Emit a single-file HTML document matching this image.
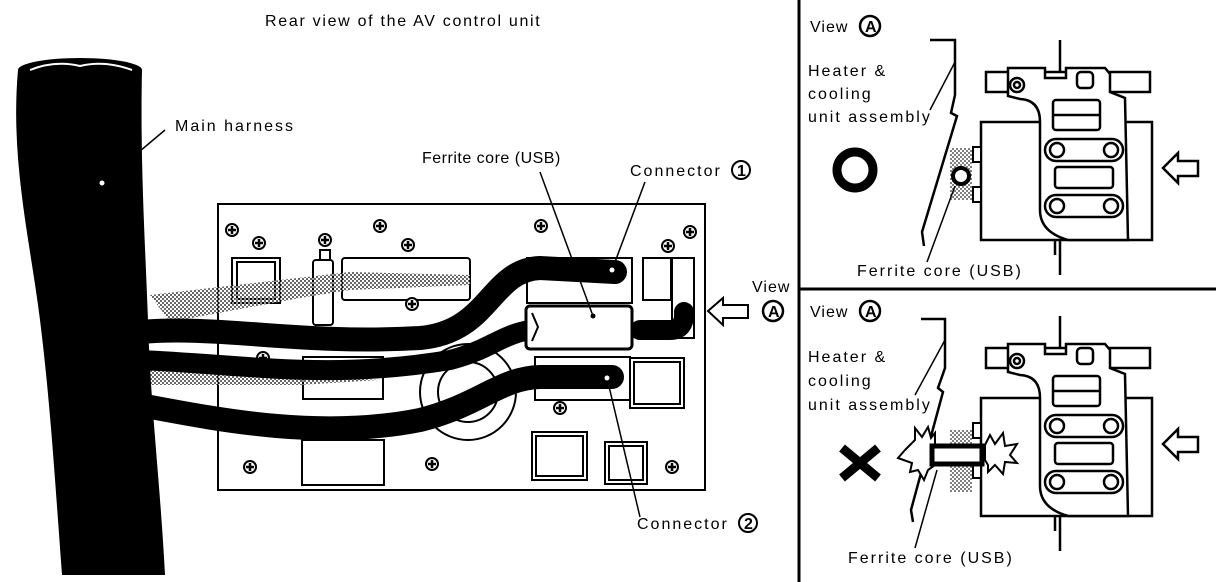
<!DOCTYPE html>
<html><head><meta charset="utf-8"><style>
html,body{margin:0;padding:0;background:#fff}
svg{display:block}
text{font-family:"Liberation Sans",sans-serif;font-size:16px;fill:#000;letter-spacing:2px}
</style></head><body>
<svg width="1216" height="582" viewBox="0 0 1216 582" xmlns="http://www.w3.org/2000/svg">
<defs>
<pattern id="dots" width="4" height="4" patternUnits="userSpaceOnUse">
<rect width="4" height="4" fill="#fff"/><rect width="2" height="2" fill="#000"/><rect x="2" y="2" width="2" height="2" fill="#000"/></pattern>
<g id="screw"><circle r="6" fill="#fff" stroke="#000" stroke-width="2"/><path d="M-4 0H4M0 -4V4" stroke="#000" stroke-width="2.5"/></g>
<g id="unit" fill="#fff" stroke="#000" stroke-width="2.5">
<rect x="981" y="122" width="171" height="118"/>
<rect x="986" y="72" width="164" height="20"/>
<path d="M1008,68 L1045,68 L1045,78 L1066,78 L1066,68 L1105,68 L1110,74 L1110,92 L1125,98 L1128,240 L1068,240 Q1040,232 1040,210 L1040,122 Q1040,100 1020,99 L1008,96 Z"/>
<rect x="1053" y="100" width="47" height="30" rx="3"/>
<line x1="1053" y1="115" x2="1100" y2="115"/>
<rect x="1045" y="139" width="78" height="22" rx="11"/>
<circle cx="1057" cy="150" r="7"/><circle cx="1111" cy="150" r="7"/>
<rect x="1055" y="167" width="58" height="21" rx="3"/>
<rect x="1045" y="195" width="78" height="22" rx="11"/>
<circle cx="1057" cy="206" r="7"/><circle cx="1111" cy="206" r="7"/>
<circle cx="1017" cy="85" r="7"/><circle cx="1017" cy="85" r="3"/>
<rect x="1077" y="72" width="16" height="16" rx="4"/>
<rect x="973" y="147" width="8" height="15" stroke-width="2"/>
<rect x="973" y="187" width="8" height="15" stroke-width="2"/>
<path d="M1163,168 L1178,153 L1178,161 L1198,161 L1198,176 L1178,176 L1178,183 Z"/>
<path d="M1060,40 V72 M1055,240 V255 M1060,240 V275" fill="none"/>
</g>
</defs>

<line x1="799" y1="0" x2="799" y2="582" stroke="#000" stroke-width="3"/>
<line x1="799" y1="289" x2="1216" y2="289" stroke="#000" stroke-width="3"/>

<text x="265" y="26" font-size="15" style="letter-spacing:1.7px">Rear view of the AV control unit</text>

<rect x="218" y="204" width="487" height="286" fill="#fff" stroke="#000" stroke-width="2"/>
<g fill="#fff" stroke="#000" stroke-width="2">
<rect x="232" y="258" width="48" height="45"/><rect x="237" y="262" width="38" height="37"/>
<rect x="313" y="260" width="20" height="65" rx="3"/><rect x="320" y="250" width="10" height="10"/>
<rect x="342" y="258" width="128" height="42" rx="3"/>
<rect x="527" y="258" width="105" height="45"/>
<rect x="643" y="258" width="28" height="42"/><rect x="672" y="258" width="22" height="80"/>
<rect x="303" y="357" width="80" height="42"/>
<rect x="535" y="357" width="95" height="43"/>
<rect x="630" y="358" width="54" height="50"/><rect x="634" y="362" width="46" height="42"/>
<rect x="302" y="440" width="82" height="45"/>
<rect x="532" y="432" width="55" height="48"/><rect x="536" y="436" width="47" height="40"/>
<rect x="605" y="442" width="42" height="42"/><rect x="609" y="446" width="34" height="34"/>
<circle cx="468" cy="392" r="48" fill="none"/><circle cx="468" cy="392" r="30" fill="none"/>
</g>
<g>
<use href="#screw" x="232" y="230"/><use href="#screw" x="259" y="243"/><use href="#screw" x="325" y="240"/>
<use href="#screw" x="380" y="226"/><use href="#screw" x="408" y="245"/><use href="#screw" x="541" y="226"/>
<use href="#screw" x="690" y="232"/><use href="#screw" x="668" y="246"/><use href="#screw" x="263" y="358"/>
<use href="#screw" x="560" y="408"/><use href="#screw" x="250" y="467"/><use href="#screw" x="432" y="464"/>
<use href="#screw" x="672" y="467"/><use href="#screw" x="412" y="304"/>
</g>
<path d="M150,295 L280,280 L350,272 L470,275 L470,285 L350,290 L300,298 L170,322 Z" fill="url(#dots)" opacity="0.6"/>
<path d="M150,370 L300,375 L380,380 L300,385 L150,385 Z" fill="url(#dots)" opacity="0.6"/>

<path d="M18,70 C10,160 30,240 40,320 C50,400 55,480 62,575 L165,575 C160,480 150,400 148,320 C145,240 140,160 142,70 Z" fill="#000"/>
<ellipse cx="80" cy="70" rx="62" ry="12" fill="#000"/>
<path d="M30,70 Q55,60 80,66 Q105,60 132,70" stroke="#fff" stroke-width="2" fill="none"/>

<g fill="none" stroke="#000" stroke-linecap="round">
<path d="M140,332 C220,325 300,345 420,338 C490,332 490,270 540,268 L615,272" stroke-width="24"/>
<path d="M140,360 C250,365 330,380 450,360 C490,350 500,335 530,330" stroke-width="20"/>
<path d="M640,330 L670,330 Q685,330 684,312" stroke-width="20"/>
<path d="M140,405 C220,420 320,440 420,420 C480,405 500,378 540,377 L612,377" stroke-width="24"/>
</g>
<rect x="526" y="306" width="106" height="43" rx="4" fill="#fff" stroke="#000" stroke-width="3"/>
<path d="M532,313 L538,327 L532,341" fill="none" stroke="#000" stroke-width="2"/>

<g stroke="#000" stroke-width="1.5" fill="none">
<line x1="165" y1="130" x2="102" y2="183"/>
<line x1="540" y1="172" x2="593" y2="316"/>
<line x1="645" y1="182" x2="612" y2="270"/>
<line x1="607" y1="378" x2="640" y2="517"/>
</g>
<g fill="#000"><circle cx="102" cy="183" r="3" fill="#fff" stroke="#000"/><circle cx="593" cy="316" r="2.5"/><circle cx="612" cy="270" r="2.5" fill="#fff"/><circle cx="607" cy="378" r="2.5" fill="#fff"/></g>

<text x="175" y="131">Main harness</text>
<text x="422" y="163" style="letter-spacing:0.5px">Ferrite core (USB)</text>
<text x="630" y="176">Connector</text>
<circle cx="741" cy="170" r="9" fill="none" stroke="#000" stroke-width="2"/><text x="737" y="176" font-size="13" font-weight="bold" style="letter-spacing:0">1</text>
<text x="637" y="529">Connector</text>
<circle cx="748" cy="523" r="9" fill="none" stroke="#000" stroke-width="2"/><text x="744" y="529" font-size="13" font-weight="bold" style="letter-spacing:0">2</text>
<text x="752" y="292" style="letter-spacing:1px">View</text>
<circle cx="773" cy="311" r="10" fill="none" stroke="#000" stroke-width="2.5"/><text x="768" y="317" font-size="15" font-weight="bold" style="letter-spacing:0">A</text>
<path d="M708,311 L723,298 L723,305 L748,305 L748,318 L723,318 L723,325 Z" fill="#fff" stroke="#000" stroke-width="2"/>

<text x="810" y="32" style="letter-spacing:1px">View</text>
<circle cx="870" cy="26" r="10" fill="none" stroke="#000" stroke-width="2.5"/><text x="865" y="32" font-size="15" font-weight="bold" style="letter-spacing:0">A</text>
<text x="808" y="76">Heater &amp;</text>
<text x="808" y="99">cooling</text>
<text x="808" y="122">unit assembly</text>
<circle cx="855" cy="170" r="18" fill="none" stroke="#000" stroke-width="9"/>
<path d="M930,40 L955,40 L955,95 L951,113 L957,116 L922,232 L924,246" fill="none" stroke="#000" stroke-width="2.5"/>
<line x1="955" y1="62" x2="930" y2="110" stroke="#000" stroke-width="1.5"/>
<rect x="950" y="148" width="22" height="52" fill="url(#dots)" opacity="0.5"/>
<use href="#unit"/>
<circle cx="961" cy="176" r="8" fill="#fff" stroke="#000" stroke-width="4"/>
<line x1="955" y1="186" x2="927" y2="262" stroke="#000" stroke-width="1.5"/>
<text x="857" y="276">Ferrite core (USB)</text>

<text x="810" y="317" style="letter-spacing:1px">View</text>
<circle cx="870" cy="311" r="10" fill="none" stroke="#000" stroke-width="2.5"/><text x="865" y="317" font-size="15" font-weight="bold" style="letter-spacing:0">A</text>
<text x="808" y="362">Heater &amp;</text>
<text x="808" y="386">cooling</text>
<text x="808" y="410">unit assembly</text>
<path d="M921,319 L945,319 L945,368 L938,388 L943,392 L911,510 L913,522" fill="none" stroke="#000" stroke-width="2.5"/>
<line x1="945" y1="340" x2="915" y2="395" stroke="#000" stroke-width="1.5"/>
<rect x="950" y="430" width="22" height="62" fill="url(#dots)" opacity="0.5"/>
<g transform="translate(0,276)"><use href="#unit"/></g>
<path d="M842,448 L878,478 M878,448 L842,478" stroke="#000" stroke-width="9"/>
<path d="M905,450 L915,440 L915,428 L922,437 L928,427 L931,438 L935,433 L935,465 L928,470 L924,480 L918,470 L910,472 L912,463 L898,458 Z" fill="#fff" stroke="#000" stroke-width="2"/>
<path d="M985,445 L990,435 L995,444 L1003,433 L1005,446 L1017,444 L1010,455 L1017,463 L1005,462 L1003,474 L995,465 L988,472 L988,465 L985,460 Z" fill="#fff" stroke="#000" stroke-width="2"/>
<rect x="932" y="446" width="50" height="18" fill="#fff" stroke="#000" stroke-width="5"/>
<line x1="937" y1="470" x2="915" y2="548" stroke="#000" stroke-width="1.5"/>
<text x="848" y="563">Ferrite core (USB)</text>
</svg>
</body></html>
